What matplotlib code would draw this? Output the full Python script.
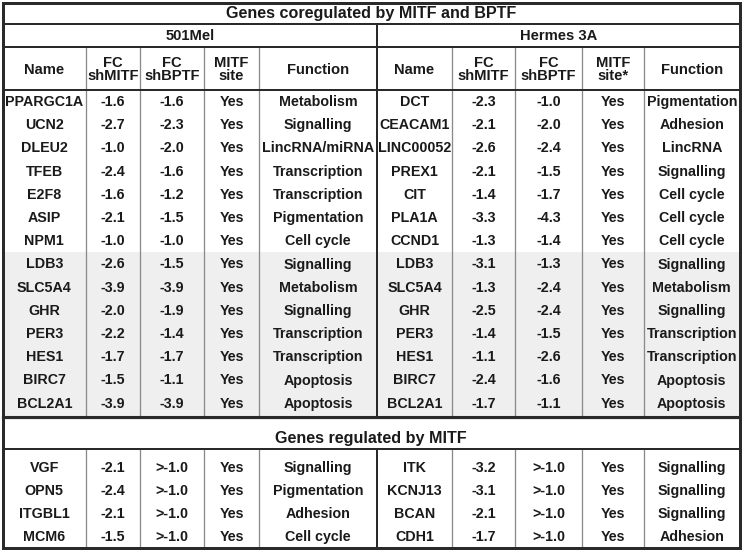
import matplotlib
matplotlib.use("Agg")
import matplotlib.pyplot as plt
from matplotlib.patches import Rectangle

plt.rcParams['font.family'] = ['Liberation Sans', 'DejaVu Sans']

# ---------------- data ----------------
title_top = "Genes coregulated by MITF and BPTF"
title_bottom = "Genes regulated by MITF"
group_left = "501Mel"
group_right = "Hermes 3A"
headers_left = ["Name", "FC\nshMITF", "FC\nshBPTF", "MITF\nsite", "Function"]
headers_right = ["Name", "FC\nshMITF", "FC\nshBPTF", "MITF\nsite*", "Function"]

names_501 = ["PPARGC1A", "UCN2", "DLEU2", "TFEB", "E2F8", "ASIP", "NPM1",
             "LDB3", "SLC5A4", "GHR", "PER3", "HES1", "BIRC7", "BCL2A1"]
fc_mitf_501 = ["-1.6", "-2.7", "-1.0", "-2.4", "-1.6", "-2.1", "-1.0",
               "-2.6", "-3.9", "-2.0", "-2.2", "-1.7", "-1.5", "-3.9"]
fc_bptf_501 = ["-1.6", "-2.3", "-2.0", "-1.6", "-1.2", "-1.5", "-1.0",
               "-1.5", "-3.9", "-1.9", "-1.4", "-1.7", "-1.1", "-3.9"]
site_501 = ["Yes"] * 14
func_501 = ["Metabolism", "Signalling", "LincRNA/miRNA", "Transcription",
            "Transcription", "Pigmentation", "Cell cycle", "Signalling",
            "Metabolism", "Signalling", "Transcription", "Transcription",
            "Apoptosis", "Apoptosis"]

names_h3a = ["DCT", "CEACAM1", "LINC00052", "PREX1", "CIT", "PLA1A", "CCND1",
             "LDB3", "SLC5A4", "GHR", "PER3", "HES1", "BIRC7", "BCL2A1"]
fc_mitf_h3a = ["-2.3", "-2.1", "-2.6", "-2.1", "-1.4", "-3.3", "-1.3",
               "-3.1", "-1.3", "-2.5", "-1.4", "-1.1", "-2.4", "-1.7"]
fc_bptf_h3a = ["-1.0", "-2.0", "-2.4", "-1.5", "-1.7", "-4.3", "-1.4",
               "-1.3", "-2.4", "-2.4", "-1.5", "-2.6", "-1.6", "-1.1"]
site_h3a = ["Yes"] * 14
func_h3a = ["Pigmentation", "Adhesion", "LincRNA", "Signalling", "Cell cycle",
            "Cell cycle", "Cell cycle", "Signalling", "Metabolism", "Signalling",
            "Transcription", "Transcription", "Apoptosis", "Apoptosis"]
shaded_rows = [7, 8, 9, 10, 11, 12, 13]

m_names_501 = ["VGF", "OPN5", "ITGBL1", "MCM6"]
m_fc_mitf_501 = ["-2.1", "-2.4", "-2.1", "-1.5"]
m_fc_bptf_501 = [">-1.0", ">-1.0", ">-1.0", ">-1.0"]
m_site_501 = ["Yes"] * 4
m_func_501 = ["Signalling", "Pigmentation", "Adhesion", "Cell cycle"]

m_names_h3a = ["ITK", "KCNJ13", "BCAN", "CDH1"]
m_fc_mitf_h3a = ["-3.2", "-3.1", "-2.1", "-1.7"]
m_fc_bptf_h3a = [">-1.0", ">-1.0", ">-1.0", ">-1.0"]
m_site_h3a = ["Yes"] * 4
m_func_h3a = ["Signalling", "Signalling", "Signalling", "Adhesion"]

# ---------------- layout (pixel units) ----------------
W, H = 742, 550
fig = plt.figure(figsize=(W / 100, H / 100), dpi=100)
ax = fig.add_axes([0, 0, 1, 1])
ax.set_xlim(0, W)
ax.set_ylim(H, 0)
ax.axis("off")

L, R, T, B = 2.5, 739.5, 2.5, 547.5
col_l = [L, 86, 140, 204, 259, 377]
col_r = [377, 452, 515, 582, 644, R]
y_title1 = 24
y_group = 47
y_head = 90
row_h1 = 23.2
y_sec1_end = 417
y_title2 = 449
row_h2 = 23.0

dark = "#2a2a2a"
gray = "#8a8a8a"
txt = "#1a1a1a"
fs = 10.3
fw = "bold"

def put(x, y, s, size=fs):
    ax.text(x, y, s, ha="center", va="center", fontsize=size, fontweight=fw,
            color=txt, linespacing=0.95)

# shading
s0 = y_head + row_h1 * shaded_rows[0]
s1 = y_head + row_h1 * (shaded_rows[-1] + 1)
ax.add_patch(Rectangle((L, s0), R - L, s1 - s0, facecolor="#efefef",
                       edgecolor="none", zorder=0))

# titles
put((L + R) / 2, (T + y_title1) / 2 + 0.5, title_top, size=11.6)
put((col_l[0] + col_l[-1]) / 2, (y_title1 + y_group) / 2 + 0.5, group_left, size=10.6)
put((col_r[0] + col_r[-1]) / 2, (y_title1 + y_group) / 2 + 0.5, group_right, size=10.6)
put((L + R) / 2, 438.5, title_bottom, size=11.6)

# headers
for cols, hdr in ((col_l, headers_left), (col_r, headers_right)):
    for i, h in enumerate(hdr):
        put((cols[i] + cols[i + 1]) / 2, (y_group + y_head) / 2 + 1, h, size=10.6)

# section 1 rows
left_cols = [names_501, fc_mitf_501, fc_bptf_501, site_501, func_501]
right_cols = [names_h3a, fc_mitf_h3a, fc_bptf_h3a, site_h3a, func_h3a]
for cols, data in ((col_l, left_cols), (col_r, right_cols)):
    for j, colvals in enumerate(data):
        xc = (cols[j] + cols[j + 1]) / 2
        for i, v in enumerate(colvals):
            put(xc, y_head + row_h1 * (i + 0.5) + 0.5, v)

# section 2 rows
left_m = [m_names_501, m_fc_mitf_501, m_fc_bptf_501, m_site_501, m_func_501]
right_m = [m_names_h3a, m_fc_mitf_h3a, m_fc_bptf_h3a, m_site_h3a, m_func_h3a]
for cols, data in ((col_l, left_m), (col_r, right_m)):
    for j, colvals in enumerate(data):
        xc = (cols[j] + cols[j + 1]) / 2
        for i, v in enumerate(colvals):
            put(xc, y_title2 + 7.5 + row_h2 * (i + 0.5), v)

# ---------------- lines ----------------
px = 0.72
for cols in (col_l, col_r):
    for x in cols[1:-1]:
        ax.plot([x, x], [y_group, y_sec1_end], color=gray, lw=1.3 * px, zorder=2)
        ax.plot([x, x], [y_title2, B], color=gray, lw=1.3 * px, zorder=2)
ax.plot([377, 377], [y_title1, y_sec1_end], color=dark, lw=2 * px, zorder=3)
ax.plot([377, 377], [y_title2, B], color=dark, lw=2 * px, zorder=3)
for y, lw in ((y_title1, 2), (y_group, 2), (y_head, 2), (y_title2, 2)):
    ax.plot([L, R], [y, y], color=dark, lw=lw * px, zorder=3)
ax.plot([L, R], [y_sec1_end, y_sec1_end], color=dark, lw=3.2 * px, zorder=3)
ax.add_patch(Rectangle((L, T), R - L, B - T, facecolor="none",
                       edgecolor=dark, lw=3 * px, zorder=4))

fig.savefig("out.png", dpi=100, facecolor="white")
